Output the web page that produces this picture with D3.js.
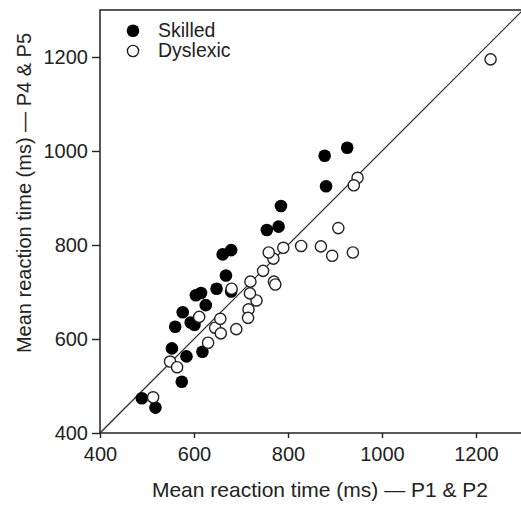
<!DOCTYPE html>
<html>
<head>
<meta charset="utf-8">
<script src="https://cdn.jsdelivr.net/npm/d3@7"></script>
<style>
  body { margin: 0; background: #fff; }
  svg { font-family: "Liberation Sans", Arial, sans-serif; }
</style>
</head>
<body>
<div id="chart"></div>
<script>
// values (ms)
const skilledX = [489, 518, 574, 553, 584, 618, 560, 576, 593, 601, 625, 604, 615, 648, 668, 679, 661, 679, 755, 780, 785, 878, 926, 881];
const skilledY = [474, 454, 509, 580, 563, 573, 626, 657, 635, 630, 672, 693, 698, 707, 735, 701, 780, 789, 832, 839, 883, 990, 1007, 925];

const dyslexicX = [513, 549, 564, 630, 611, 645, 656, 657, 690, 680, 716, 715, 733, 719, 720, 747, 770, 773, 769, 759, 790, 828, 870, 894, 938, 907, 948, 940, 1231];
const dyslexicY = [476, 552, 540, 592, 647, 624, 643, 612, 621, 707, 663, 645, 682, 697, 722, 745, 722, 716, 771, 784, 794, 798, 797, 777, 784, 836, 943, 927, 1195];

const axisTicks = [400, 600, 800, 1000, 1200];
const domainMin = 400, domainMax = 1300;

const margin = {top: 10, left: 100},
      width = 423, height = 423;

const svg = d3.select('#chart')
    .append('svg')
    .attr('width', 521)
    .attr('height', 505)
    .append('g')
    .attr('transform', 'translate(' + margin.left + ',' + margin.top + ')');

const x = d3.scaleLinear().domain([domainMin, domainMax]).range([0, width]);
const y = d3.scaleLinear().domain([domainMin, domainMax]).range([height, 0]);

const ink = '#222';

// axes
const xAxis = svg.append('g')
    .attr('transform', `translate(0, ${height})`)
    .call(d3.axisBottom(x).tickValues(axisTicks).tickFormat(d3.format('d'))
        .tickSize(5).tickSizeOuter(0).tickPadding(9));

const yAxis = svg.append('g')
    .call(d3.axisLeft(y).tickValues(axisTicks).tickFormat(d3.format('d'))
        .tickSize(8).tickSizeOuter(0).tickPadding(4));

[xAxis, yAxis].forEach(a => {
    a.select('.domain').remove();
    a.selectAll('line').attr('stroke', ink).attr('stroke-width', 1.4);
    a.selectAll('text')
        .attr('fill', ink)
        .style('font-size', '20px')
        .style('font-family', '"Liberation Sans", Arial, sans-serif');
});

// frame
svg.append('rect')
    .attr('x', 0).attr('y', 0)
    .attr('width', width).attr('height', height)
    .attr('fill', 'none')
    .attr('stroke', ink)
    .attr('stroke-width', 1.5);

// identity line
svg.append('line')
    .attr('x1', x(domainMin)).attr('y1', y(domainMin))
    .attr('x2', x(domainMax)).attr('y2', y(domainMax))
    .attr('stroke', ink)
    .attr('stroke-width', 1.2);

const skilled = skilledX.map((v, i) => ({x: v, y: skilledY[i]}));
const dyslexic = dyslexicX.map((v, i) => ({x: v, y: dyslexicY[i]}));

svg.selectAll('.skilled')
    .data(skilled)
    .enter()
    .append('circle')
    .attr('class', 'skilled')
    .attr('cx', d => x(d.x))
    .attr('cy', d => y(d.y))
    .attr('r', 6.3)
    .attr('fill', '#000');

svg.selectAll('.dyslexic')
    .data(dyslexic)
    .enter()
    .append('circle')
    .attr('class', 'dyslexic')
    .attr('cx', d => x(d.x))
    .attr('cy', d => y(d.y))
    .attr('r', 5.6)
    .attr('fill', '#fff')
    .attr('stroke', ink)
    .attr('stroke-width', 1.4);

// legend
const legend = svg.append('g').attr('transform', 'translate(33, 0)');
legend.append('circle').attr('cx', 0).attr('cy', 20.7).attr('r', 6.3).attr('fill', '#000');
legend.append('circle').attr('cx', 0).attr('cy', 41).attr('r', 5.6)
    .attr('fill', '#fff').attr('stroke', ink).attr('stroke-width', 1.4);
legend.append('text').attr('x', 25).attr('y', 26.5).text('Skilled')
    .attr('fill', ink).style('font-size', '19.5px');
legend.append('text').attr('x', 25).attr('y', 47).text('Dyslexic')
    .attr('fill', ink).style('font-size', '19.5px');

// axis titles
svg.append('text')
    .attr('x', 220)
    .attr('y', height + 64)
    .attr('text-anchor', 'middle')
    .attr('fill', ink)
    .style('font-size', '21px')
    .text('Mean reaction time (ms) \u2014 P1 & P2');

svg.append('text')
    .attr('transform', 'rotate(-90)')
    .attr('x', -183)
    .attr('y', -69)
    .attr('text-anchor', 'middle')
    .attr('fill', ink)
    .style('font-size', '20px')
    .text('Mean reaction time (ms) \u2014 P4 & P5');
</script>
</body>
</html>
